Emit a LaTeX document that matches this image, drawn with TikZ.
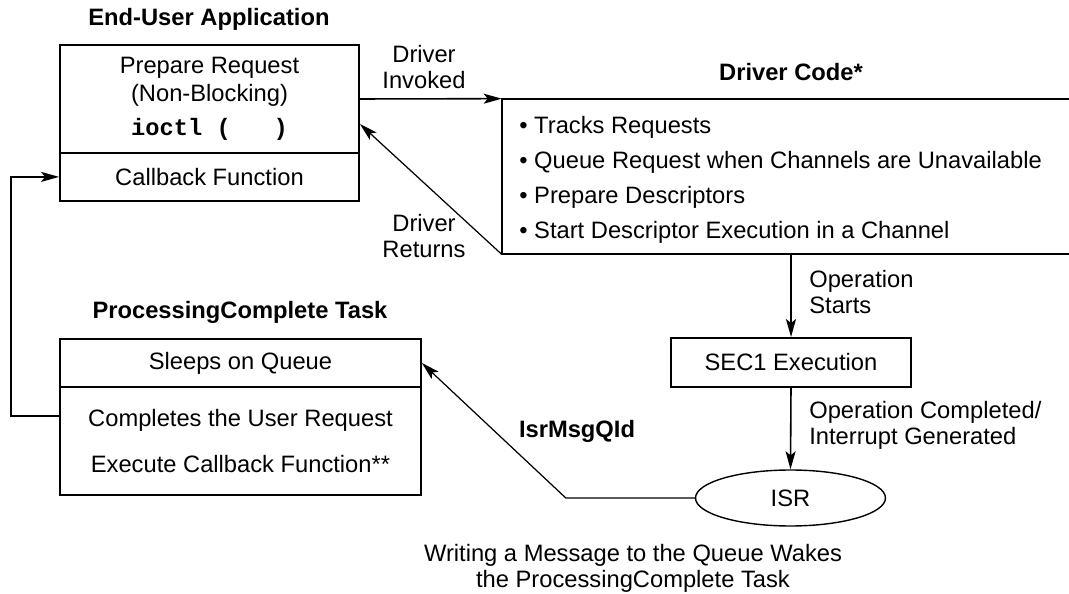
\documentclass[tikz,border=0pt]{standalone}
\usepackage{fontspec}
\setmainfont{Liberation Sans}
\setmonofont{Liberation Mono}
\usetikzlibrary{arrows.meta,shapes.geometric}
\newcommand\boxfont{\fontsize{13.5}{15.9}\selectfont}
\newcommand\lblfont{\fontsize{13.5}{14.8}\selectfont}
\tikzset{help lines/.style={very thin,color=gray!50}}
\tikzset{part/.style={draw,line width=1.1pt,inner sep=0pt,align=center,font=\boxfont}}
\tikzset{title/.style={inner sep=0pt,font=\bfseries\boxfont}}
\tikzset{lbl/.style={inner sep=0pt,align=left,font=\lblfont}}
\tikzset{flow/.style={line width=0.9pt,-{Stealth[length=0.36cm,width=0.2cm,inset=0.08cm]}}}

\begin{document}
\begin{tikzpicture}[x=0.02cm,y=-0.02cm]
	\useasboundingbox (0,0) rectangle (1069,594);
%	\draw[help lines,step=50] (0,0) grid (1069,594); %grid

	% end-user application
	\node[title] (eua) at (209,19) {End-User Application};
	\node[part,minimum width=5.98cm,minimum height=2.16cm] (prep) at (209.5,99) {Prepare Request\\(Non-Blocking)\\[3.4pt]{\ttfamily\bfseries ioctl (\ \ \ )}};
	\node[part,minimum width=5.98cm,minimum height=0.954cm] (cb) at (209.5,176.9) {Callback Function};

	% driver code, open on the right
	\node[title] (dct) at (791,72) {Driver Code*};
	\node[inner sep=0pt,minimum width=11.34cm,minimum height=3.1cm] (dc) at (785.5,176.5) {};
	\draw[line width=1.1pt] (dc.north east) -- (dc.north west) -- (dc.south west) -- (dc.south east);
	\foreach \txt [count=\i] in {Tracks Requests,Queue Request when Channels are Unavailable,Prepare Descriptors,Start Descriptor Execution in a Channel}
		\node[lbl,anchor=base west] (item\i) at (519,{133.5+35*(\i-1)}) {\textbullet\ \txt};

	% hardware side
	\node[part,minimum width=4.8cm,minimum height=0.98cm] (sec) at (791,362.5) {SEC1 Execution};
	\node[ellipse,draw,line width=0.8pt,inner sep=0pt,minimum width=3.8cm,minimum height=1.12cm,font=\boxfont] (isr) at (790.5,498) {ISR};

	% processingcomplete task
	\node[title] (pctt) at (240,312) {ProcessingComplete Task};
	\node[part,minimum width=7.22cm,minimum height=0.96cm] (pct) at (240.5,363) {Sleeps on Queue};
	\node[part,minimum width=7.22cm,minimum height=2.16cm] (pcb) at (240.5,441) {Completes the User Request\\[10.7pt]Execute Callback Function**};

	\draw[flow] (prep.east) -- (dc.north west);
	\draw[flow,line width=0.7pt] (dc.south west) -- ([yshift=-0.5cm]prep.east);
	\draw[flow] (dc.south -| sec.north) -- (sec.north);
	\draw[flow] (sec.south) -- (isr.north);
	\draw[flow,line width=0.7pt] (isr.west) -- ++(-129,0) -- (pct.east);
	\draw[flow] ([yshift=0.5cm]pcb.west) -- ++(-48,0) |- (cb.west);

	\node[lbl,align=center] (inv) at (424,67.5) {Driver\\Invoked};
	\node[lbl,align=center] (ret) at (424,236) {Driver\\Returns};
	\node[lbl,anchor=west] (ops) at (809,292.5) {Operation\\Starts};
	\node[lbl,anchor=west] (opc) at (809,425) {Operation Completed/\\Interrupt Generated};
	\node[title] (msg) at (577,431) {IsrMsgQId};
	\node[lbl,align=center] (wake) at (633,568) {Writing a Message to the Queue Wakes\\the ProcessingComplete Task};

\end{tikzpicture}
\end{document}
